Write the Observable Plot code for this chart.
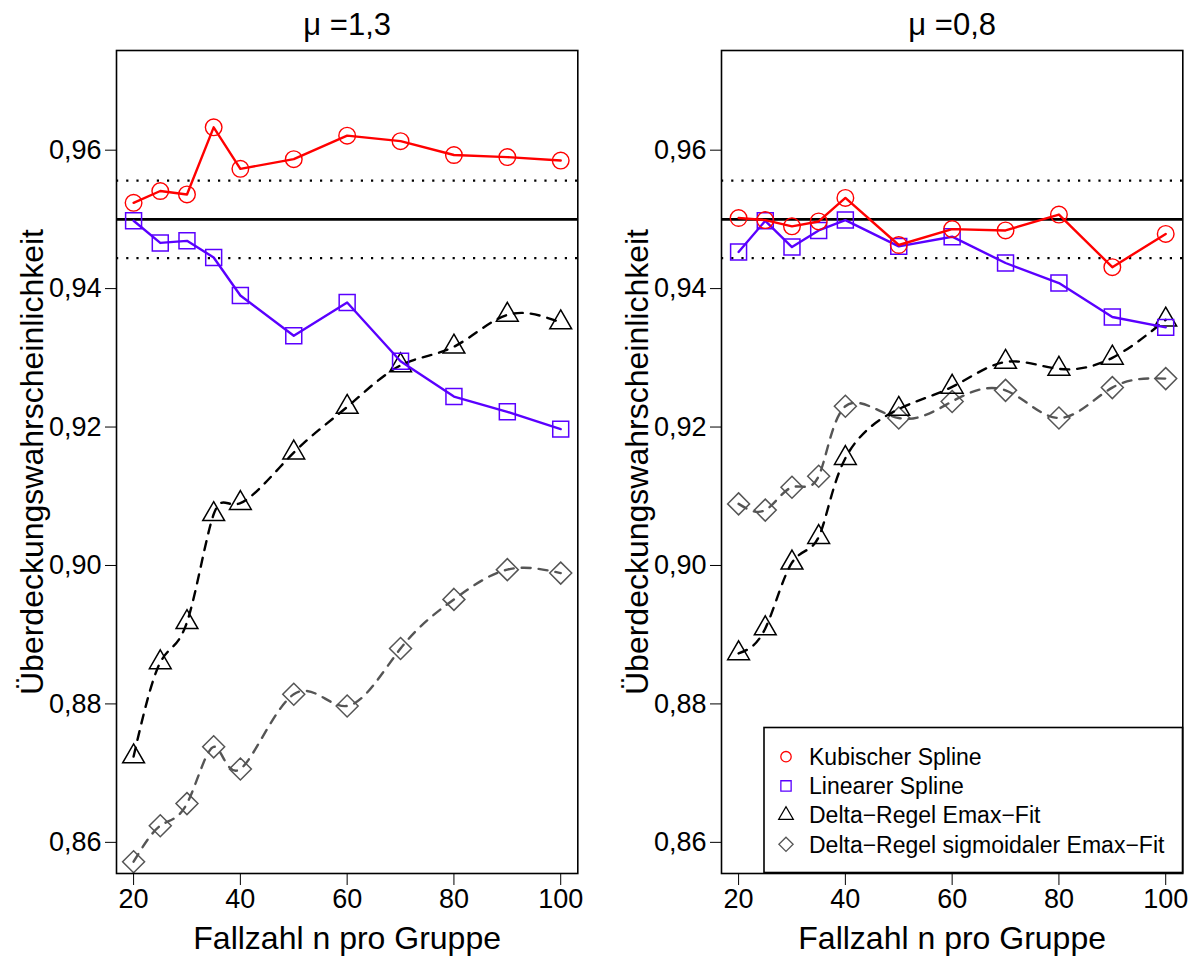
<!DOCTYPE html>
<html><head><meta charset="utf-8">
<script src="https://cdn.jsdelivr.net/npm/d3@7"></script>
<script src="https://cdn.jsdelivr.net/npm/@observablehq/plot@0.6"></script>
<style>
body{margin:0;background:#fff;}
#root{position:relative;width:1200px;height:960px;overflow:hidden;background:#fff;font-family:"Liberation Sans",Arial,sans-serif;}
.panel{position:absolute;top:0;}
</style></head><body><div id="root"></div>
<script>
// ---- data ----
const nValues = [20, 25, 30, 35, 40, 50, 60, 70, 80, 90, 100];
const xTicks = [20, 40, 60, 80, 100];
const yTicks = [0.86, 0.88, 0.90, 0.92, 0.94, 0.96];
const seriesNames = ["Kubischer Spline", "Linearer Spline", "Delta\u2212Regel Emax\u2212Fit", "Delta\u2212Regel sigmoidaler Emax\u2212Fit"];
const panelTitles = ["\u03bc =1,3", "\u03bc =0,8"];
const xLabel = "Fallzahl n pro Gruppe";
const yLabel = "\u00dcberdeckungswahrscheinlichkeit";

const mu13Kubisch = [0.9524, 0.9541, 0.9536, 0.9633, 0.9573, 0.9587, 0.9621, 0.9613, 0.9593, 0.9590, 0.9585];
const mu13Linear  = [0.9498, 0.9466, 0.9469, 0.9445, 0.9390, 0.9332, 0.9380, 0.9295, 0.9244, 0.9222, 0.9197];
const mu13Emax    = [0.8724, 0.8860, 0.8918, 0.9074, 0.9090, 0.9163, 0.9229, 0.9289, 0.9316, 0.9362, 0.9351];
const mu13SigEmax = [0.8572, 0.8624, 0.8656, 0.8738, 0.8706, 0.8814, 0.8797, 0.8880, 0.8951, 0.8994, 0.8989];

const mu08Kubisch = [0.9502, 0.9499, 0.9490, 0.9497, 0.9531, 0.9463, 0.9486, 0.9484, 0.9507, 0.9431, 0.9479];
const mu08Linear  = [0.9453, 0.9498, 0.9460, 0.9484, 0.9499, 0.9461, 0.9475, 0.9437, 0.9408, 0.9359, 0.9344];
const mu08Emax    = [0.8873, 0.8909, 0.9004, 0.9041, 0.9155, 0.9226, 0.9258, 0.9294, 0.9284, 0.9300, 0.9355];
const mu08SigEmax = [0.9089, 0.9080, 0.9113, 0.9129, 0.9230, 0.9213, 0.9237, 0.9253, 0.9213, 0.9257, 0.9270];

const nominalLevel = 0.95;
const mcBounds = [0.9444, 0.9556];

// ---- styles ----
const seriesStyle = [
  {stroke: "#ff0000", dash: null, curve: "linear", symbol: "circle", r: 8.3, lw: 2.4, sw: 1.4, legR: 5.2},
  {stroke: "#5a00ff", dash: null, curve: "linear", symbol: "square", r: 9.0, lw: 2.4, sw: 1.5, legR: 5.8},
  {stroke: "#000000", dash: "9,8", curve: "natural", symbol: "triangle", r: 8.1, lw: 2.4, sw: 1.5, legR: 5.4},
  {stroke: "#555555", dash: "9,8", curve: "natural", symbol: "diamond2", r: 9.9, lw: 2.4, sw: 1.5, legR: 6.4}
];
const fmt = d => d.toFixed(2).replace(".", ",");
const FONT = "Liberation Sans, Arial, sans-serif";

function panel(title, seriesValues, width, marginRight) {
  const tables = seriesValues.map(vals => nValues.map((n, i) => ({n, v: vals[i]})));
  const marks = [
    Plot.ruleY(mcBounds, {stroke: "black", strokeWidth: 2.2, strokeDasharray: "2.2,8"}),
    Plot.ruleY([nominalLevel], {stroke: "black", strokeWidth: 2.6})
  ];
  for (const k of [3, 2, 1, 0]) {
    const s = seriesStyle[k];
    marks.push(Plot.line(tables[k], {x: "n", y: "v", stroke: s.stroke, strokeWidth: s.lw, strokeDasharray: s.dash || undefined, curve: s.curve}));
    marks.push(Plot.dot(tables[k], {x: "n", y: "v", symbol: s.symbol, r: s.r, stroke: s.stroke, strokeWidth: s.sw, fill: "none"}));
  }
  marks.push(
    Plot.frame({stroke: "black", strokeWidth: 1.6}),
    Plot.axisX({ticks: xTicks, tickSize: 12, tickPadding: 3, label: null, fontSize: 27, tickFormat: d => String(d)}),
    Plot.axisY({ticks: yTicks, tickSize: 11, tickPadding: 4, label: null, fontSize: 27, tickFormat: fmt}),
    Plot.text([title], {frameAnchor: "top", lineAnchor: "middle", dy: -25, fontSize: 31, text: d => d}),
    Plot.text([xLabel], {frameAnchor: "bottom", lineAnchor: "middle", textAnchor: "middle", dy: 65, fontSize: 32, text: d => d}),
    Plot.text([yLabel], {frameAnchor: "left", lineAnchor: "middle", textAnchor: "middle", dx: -84, rotate: -90, fontSize: 32, text: d => d})
  );
  return Plot.plot({
    width, height: 960,
    marginLeft: 116, marginRight, marginTop: 50, marginBottom: 87,
    x: {domain: [16.8, 103.2]},
    y: {domain: [0.8555, 0.9744]},
    style: {fontFamily: FONT, fontSize: "27px", color: "black", background: "white", overflow: "visible"},
    marks
  });
}

const root = document.getElementById("root");
const p1 = panel(panelTitles[0], [mu13Kubisch, mu13Linear, mu13Emax, mu13SigEmax], 600, 22.7);
p1.classList.add("panel"); p1.style.left = "0px";
root.appendChild(p1);
const p2 = panel(panelTitles[1], [mu08Kubisch, mu08Linear, mu08Emax, mu08SigEmax], 595, 17.7);
p2.classList.add("panel"); p2.style.left = "605px";
root.appendChild(p2);

// ---- legend (in panel 2) ----
const lg = d3.create("svg").attr("width", 420).attr("height", 148)
  .style("position", "absolute").style("left", "763px").style("top", "726px").style("overflow", "visible");
lg.append("rect").attr("x", 1).attr("y", 1.5).attr("width", 418.5).attr("height", 145)
  .attr("fill", "white").attr("stroke", "black").attr("stroke-width", 1.6);
const symMap = {circle: d3.symbolCircle, square: d3.symbolSquare, triangle: d3.symbolTriangle, diamond2: d3.symbolDiamond2};
seriesNames.forEach((name, i) => {
  const s = seriesStyle[i];
  const cy = 30.7 + i * 29.2;
  lg.append("path").attr("d", d3.symbol(symMap[s.symbol], Math.PI * s.legR * s.legR)())
    .attr("transform", `translate(23,${cy})`).attr("fill", "none").attr("stroke", s.stroke).attr("stroke-width", 1.3);
  lg.append("text").attr("x", 46).attr("y", cy).attr("dy", "0.36em")
    .attr("font-family", FONT).attr("font-size", 23).attr("fill", "black").text(name);
});
root.appendChild(lg.node());
</script></body></html>
